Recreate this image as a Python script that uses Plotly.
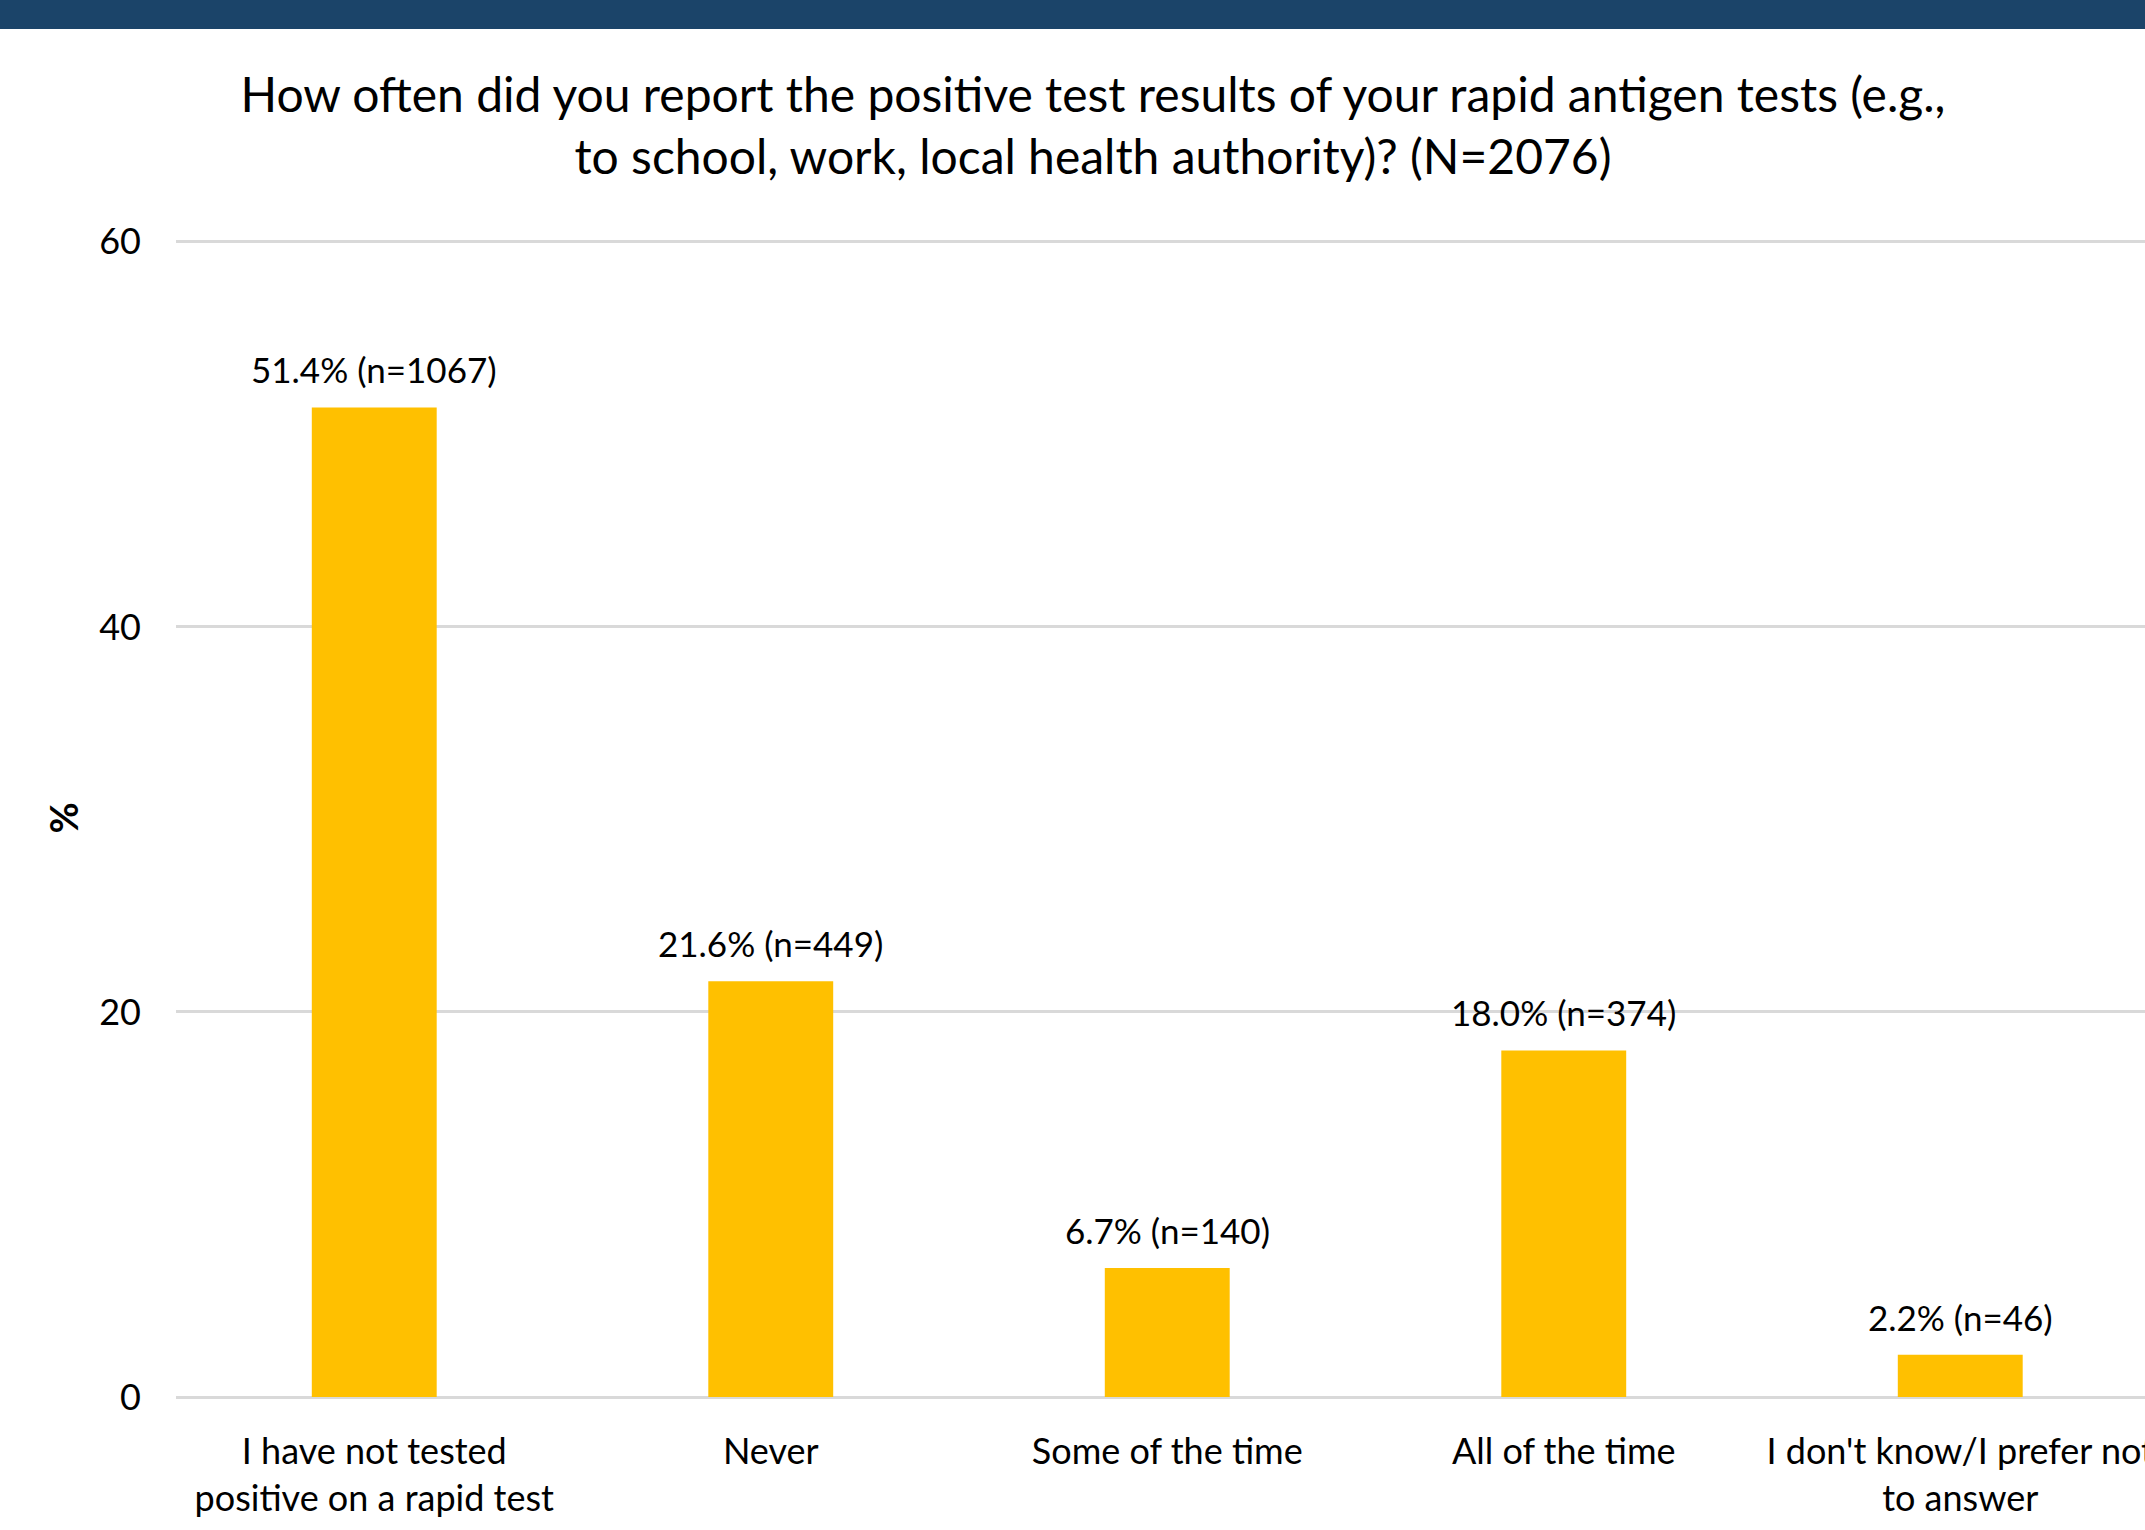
import plotly.graph_objects as go

categories = [
    "I have not tested<br>positive on a rapid test",
    "Never",
    "Some of the time",
    "All of the time",
    "I don't know/I prefer not<br>to answer",
]
percents = [51.4, 21.6, 6.7, 18.0, 2.2]
counts = [1067, 449, 140, 374, 46]
y_ticks = [0, 20, 40, 60]
title_text = ("How often did you report the positive test results of your rapid antigen tests (e.g.,"
              "<br>to school, work, local health authority)? (N=2076)")

W, H = 2145, 1530
M_L, M_R, M_T, M_B = 176, 0, 239, 133
Y_MAX = 60.15
FONT = "Lato"
BAR_COLOR = "#FFC000"

fig = go.Figure()
fig.add_trace(go.Bar(
    x=categories, y=percents, marker_color=BAR_COLOR, marker_line_width=0,
    width=0.315, hoverinfo="skip",
))

for c, p, n in zip(categories, percents, counts):
    fig.add_annotation(
        x=c, y=p, xref="x", yref="y", text=f"{p:.1f}% (n={n})",
        showarrow=False, yanchor="middle", yshift=38,
        font=dict(family=FONT, size=35, color="#000000"),
    )

plot_h = H - M_T - M_B
# dark banner across the top
fig.add_shape(type="rect", xref="paper", yref="paper",
              x0=-M_L / (W - M_L - M_R), x1=1.01,
              y0=1 + (M_T - 29) / plot_h, y1=1 + (M_T + 5) / plot_h,
              fillcolor="#1B4469", line_width=0, layer="above")

fig.update_layout(
    width=W, height=H,
    margin=dict(l=M_L, r=M_R, t=M_T, b=M_B, autoexpand=False),
    paper_bgcolor="white", plot_bgcolor="white",
    showlegend=False,
    font=dict(family=FONT, color="#000000"),
    title=dict(text=title_text, x=1093 / W, xanchor="center", xref="container",
               y=1 - 112 / H, yanchor="middle", yref="container",
               font=dict(family=FONT, size=48, color="#000000")),
    bargap=0.685,
)
fig.update_xaxes(
    range=[-0.5, -0.5 + (W - M_L - M_R) / 396.5],
    showgrid=False, showline=False, zeroline=False,
    ticks="outside", ticklen=23, tickcolor="rgba(0,0,0,0)",
    tickfont=dict(family=FONT, size=36, color="#000000"),
    automargin=False,
)
fig.update_yaxes(
    range=[0, Y_MAX], tickvals=y_ticks, ticktext=[str(v) for v in y_ticks],
    showgrid=True, gridcolor="#D9D9D9", gridwidth=2.5,
    zeroline=True, zerolinecolor="#D9D9D9", zerolinewidth=2.5,
    showline=False, ticks="", ticklabelstandoff=34,
    tickfont=dict(family=FONT, size=36, color="#000000"),
    title=dict(text="<b>%</b>", font=dict(family=FONT, size=38, color="#000000"), standoff=8),
    automargin=False,
)

fig.write_html("out.html")
